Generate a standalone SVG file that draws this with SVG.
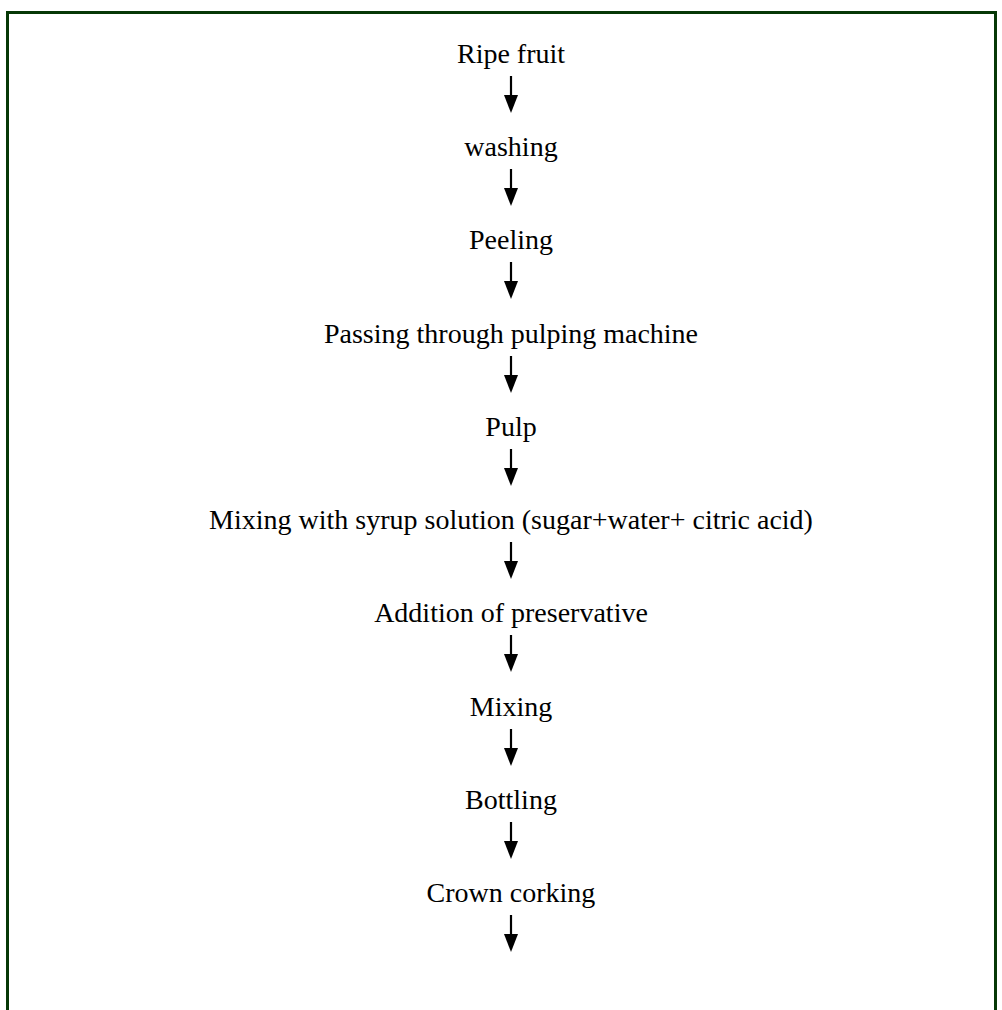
<svg xmlns="http://www.w3.org/2000/svg" width="1002" height="1010" viewBox="0 0 1002 1010">
  <style>
    .step { font-family: "Liberation Serif", "Times New Roman", serif; font-size: 28px; fill: #000; text-anchor: middle; }
    .shaft { stroke: #000; stroke-width: 2.2; fill: none; }
    .head { fill: #000; }
  </style>
  <defs>
    <g id="arrow">
      <line class="shaft" x1="0" y1="0" x2="0" y2="20"/>
      <polygon class="head" points="-7,19 7,19 0,37"/>
    </g>
  </defs>
  <rect width="1002" height="1010" fill="#fff"/>
  <!-- frame: open at the bottom -->
  <path d="M7.5,1010 V12.5 H995.5 V1010" fill="none" stroke="#063806" stroke-width="3"/>

  <g id="n1"><text class="step" x="511" y="63">Ripe fruit</text></g>
  <g id="n2"><text class="step" x="511" y="156">washing</text></g>
  <g id="n3"><text class="step" x="511" y="249">Peeling</text></g>
  <g id="n4"><text class="step" x="511" y="343">Passing through pulping machine</text></g>
  <g id="n5"><text class="step" x="511" y="436">Pulp</text></g>
  <g id="n6"><text class="step" x="511" y="529">Mixing with syrup solution (sugar+water+ citric acid)</text></g>
  <g id="n7"><text class="step" x="511" y="622">Addition of preservative</text></g>
  <g id="n8"><text class="step" x="511" y="716">Mixing</text></g>
  <g id="n9"><text class="step" x="511" y="809">Bottling</text></g>
  <g id="n10"><text class="step" x="511" y="902">Crown corking</text></g>

  <g id="connectors">
    <use href="#arrow" x="511" y="76"/>
    <use href="#arrow" x="511" y="169"/>
    <use href="#arrow" x="511" y="262"/>
    <use href="#arrow" x="511" y="356"/>
    <use href="#arrow" x="511" y="449"/>
    <use href="#arrow" x="511" y="542"/>
    <use href="#arrow" x="511" y="635"/>
    <use href="#arrow" x="511" y="729"/>
    <use href="#arrow" x="511" y="822"/>
    <use href="#arrow" x="511" y="915"/>
  </g>
</svg>
